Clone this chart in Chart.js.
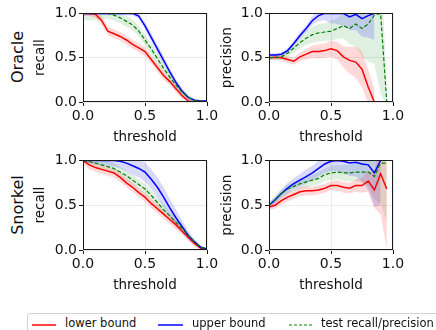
<!DOCTYPE html>
<html>
<head>
<meta charset="utf-8">
<script src="https://cdn.jsdelivr.net/npm/chart.js@4.4.0/dist/chart.umd.min.js"></script>
<style>
  body { margin: 0; background: #fff; width: 436px; height: 330px; overflow: hidden; position: relative; font-family: "DejaVu Sans", sans-serif; color: #111; }
  canvas { position: absolute; }
  .row { position: absolute; font-size: 16px; white-space: nowrap; transform: translate(-50%, -50%) rotate(-90deg); }
  #legend { position: absolute; left: 27px; top: 313px; width: 430px; height: 22px; border: 1px solid #d3d3d3; border-radius: 3px; font-size: 11.5px; }
  #legend span { position: absolute; top: 2px; white-space: nowrap; }
  #legend svg { position: absolute; top: 9px; }
</style>
</head>
<body>
<canvas id="c0"></canvas>
<canvas id="c1"></canvas>
<canvas id="c2"></canvas>
<canvas id="c3"></canvas>
<div class="row" style="left:17px; top:57px;">Oracle</div>
<div class="row" style="left:17px; top:205px;">Snorkel</div>
<div id="legend">
  <svg width="24" height="4" style="left:4px"><line x1="0" y1="2" x2="24" y2="2" stroke="#ff0000" stroke-width="1.5"/></svg>
  <span style="left:37px">lower bound</span>
  <svg width="25" height="4" style="left:130px"><line x1="0" y1="2" x2="25" y2="2" stroke="#0000ff" stroke-width="1.5"/></svg>
  <span style="left:164px">upper bound</span>
  <svg width="23" height="4" style="left:261px"><line x1="0" y1="2" x2="23" y2="2" stroke="#008000" stroke-width="1" stroke-dasharray="3,2"/></svg>
  <span style="left:293px">test recall/precision</span>
</div>
<script>
const thresholds = [0, 0.05, 0.1, 0.15, 0.2, 0.25, 0.3, 0.35, 0.4, 0.45, 0.5, 0.55, 0.6, 0.65, 0.7, 0.75, 0.8, 0.85, 0.9, 0.95, 1.0];
const tickValues = [0, 0.5, 1.0];

// Oracle - recall
const oracleRecallLower   = [1.0, 1.0, 0.99, 0.92, 0.80, 0.77, 0.74, 0.70, 0.65, 0.61, 0.57, 0.48, 0.39, 0.30, 0.23, 0.15, 0.07, 0.01, 0, 0, 0];
const oracleRecallLowerSd = [0.03, 0.03, 0.04, 0.05, 0.05, 0.05, 0.05, 0.05, 0.05, 0.05, 0.05, 0.05, 0.05, 0.05, 0.04, 0.04, 0.03, 0.02, 0.01, 0, 0];
const oracleRecallUpper   = [1, 1, 1, 1, 1, 1, 1, 1, 1, 0.97, 0.86, 0.73, 0.60, 0.47, 0.34, 0.22, 0.12, 0.05, 0.02, 0.01, 0.01];
const oracleRecallUpperSd = [0.02, 0.02, 0.02, 0.02, 0.02, 0.02, 0.02, 0.02, 0.02, 0.03, 0.04, 0.05, 0.05, 0.05, 0.04, 0.04, 0.03, 0.02, 0.01, 0.01, 0.01];
const oracleRecallTest    = [1, 1, 1, 1, 1, 0.98, 0.95, 0.91, 0.87, 0.80, 0.70, 0.60, 0.49, 0.38, 0.28, 0.19, 0.11, 0.05, 0.02, 0.01, 0];
const oracleRecallTestSd  = [0.08, 0.08, 0.08, 0.07, 0.06, 0.06, 0.06, 0.06, 0.06, 0.06, 0.06, 0.06, 0.06, 0.05, 0.05, 0.04, 0.04, 0.03, 0.02, 0.01, 0.01];

// Oracle - precision
const oraclePrecLower   = [0.50, 0.505, 0.50, 0.48, 0.46, 0.51, 0.54, 0.57, 0.57, 0.58, 0.60, 0.58, 0.51, 0.47, 0.45, 0.37, 0.17, 0.0, null, null, null];
const oraclePrecLowerSd = [0.03, 0.03, 0.03, 0.04, 0.04, 0.05, 0.06, 0.07, 0.08, 0.08, 0.09, 0.10, 0.12, 0.15, 0.18, 0.20, 0.20, 0.15, null, null, null];
const oraclePrecUpper   = [0.53, 0.53, 0.54, 0.58, 0.66, 0.75, 0.83, 0.92, 0.975, 1.0, 1.0, 1.0, 1.0, 0.96, 0.99, 0.94, 0.975, 1.0, null, null, null];
const oraclePrecUpperSd = [0.02, 0.02, 0.02, 0.03, 0.03, 0.04, 0.04, 0.05, 0.06, 0.08, 0.11, 0.12, 0.14, 0.15, 0.18, 0.20, 0.25, 0.30, null, null, null];
const oraclePrecTest    = [0.50, 0.50, 0.51, 0.55, 0.61, 0.67, 0.72, 0.76, 0.78, 0.79, 0.80, 0.83, 0.86, 0.83, 0.88, 0.83, 0.88, 0.98, 1.0, 0.0, null];
const oraclePrecTestSd  = [0.03, 0.03, 0.03, 0.04, 0.06, 0.07, 0.08, 0.09, 0.10, 0.10, 0.11, 0.12, 0.14, 0.18, 0.25, 0.32, 0.42, 0.55, 0.90, 0.05, null];

// Snorkel - recall
const snorkelRecallLower   = [1.0, 0.95, 0.92, 0.90, 0.88, 0.86, 0.81, 0.75, 0.70, 0.64, 0.59, 0.52, 0.46, 0.40, 0.34, 0.28, 0.21, 0.14, 0.07, 0.02, 0.0];
const snorkelRecallLowerSd = [0.04, 0.05, 0.05, 0.05, 0.05, 0.05, 0.05, 0.05, 0.05, 0.05, 0.05, 0.05, 0.05, 0.05, 0.05, 0.05, 0.04, 0.04, 0.03, 0.02, 0.01];
const snorkelRecallUpper   = [1, 1, 1, 1, 1, 1, 0.99, 0.97, 0.94, 0.91, 0.87, 0.79, 0.70, 0.59, 0.47, 0.36, 0.26, 0.16, 0.09, 0.03, 0.01];
const snorkelRecallUpperSd = [0.02, 0.03, 0.04, 0.05, 0.06, 0.07, 0.08, 0.09, 0.10, 0.10, 0.11, 0.11, 0.11, 0.11, 0.10, 0.09, 0.07, 0.05, 0.03, 0.02, 0.01];
const snorkelRecallTest    = [1.0, 0.985, 0.97, 0.95, 0.93, 0.91, 0.87, 0.83, 0.78, 0.73, 0.68, 0.61, 0.53, 0.45, 0.38, 0.31, 0.24, 0.16, 0.09, 0.03, 0.01];
const snorkelRecallTestSd  = [0.03, 0.04, 0.05, 0.06, 0.06, 0.06, 0.06, 0.06, 0.06, 0.06, 0.06, 0.06, 0.06, 0.06, 0.05, 0.05, 0.04, 0.03, 0.02, 0.01, 0.01];

// Snorkel - precision
const snorkelPrecLower   = [0.48, 0.50, 0.55, 0.59, 0.62, 0.65, 0.66, 0.66, 0.67, 0.69, 0.72, 0.72, 0.70, 0.69, 0.72, 0.72, 0.77, 0.67, 0.85, 0.68, null];
const snorkelPrecLowerSd = [0.03, 0.04, 0.04, 0.05, 0.05, 0.05, 0.05, 0.05, 0.05, 0.05, 0.05, 0.06, 0.06, 0.06, 0.07, 0.08, 0.12, 0.20, 0.45, 0.68, null];
const snorkelPrecUpper   = [0.50, 0.56, 0.63, 0.69, 0.74, 0.78, 0.82, 0.86, 0.91, 0.96, 0.99, 1.0, 0.99, 0.97, 0.98, 0.96, 0.95, 0.86, 1.0, null, null];
const snorkelPrecUpperSd = [0.03, 0.04, 0.05, 0.06, 0.06, 0.07, 0.08, 0.08, 0.09, 0.10, 0.11, 0.12, 0.13, 0.14, 0.16, 0.20, 0.28, 0.38, 0.50, null, null];
const snorkelPrecTest    = [0.50, 0.56, 0.63, 0.68, 0.71, 0.74, 0.76, 0.78, 0.80, 0.84, 0.86, 0.87, 0.86, 0.86, 0.87, 0.87, 0.87, 0.82, 0.97, 0.97, null];
const snorkelPrecTestSd  = [0.03, 0.04, 0.04, 0.05, 0.05, 0.06, 0.06, 0.06, 0.07, 0.07, 0.08, 0.08, 0.09, 0.09, 0.10, 0.12, 0.16, 0.25, 0.45, 0.65, null];

const RED = '#ff0000', BLUE = '#0000ff', GREEN = '#008000';
const TEXT = '#111';

// draws the four spines on top of the data, like matplotlib does
const framePlugin = {
    id: 'frame',
    afterDatasetsDraw(chart) {
        const a = chart.chartArea;
        const ctx = chart.ctx;
        ctx.save();
        ctx.strokeStyle = '#1a1a1a';
        ctx.lineWidth = 1;
        ctx.strokeRect(Math.round(a.left) + 0.5, Math.round(a.top) + 0.5,
            Math.round(a.right - a.left) - 1, Math.round(a.bottom - a.top) - 1);
        ctx.restore();
    }
};

function toPoints(values) {
    return thresholds.map((t, i) => ({ x: t, y: values[i] }));
}

function makePanel(id, left, top, width, height, yAxisWidth, yTitle, series) {
    const canvas = document.getElementById(id);
    canvas.width = width;
    canvas.height = height;
    canvas.style.left = left + 'px';
    canvas.style.top = top + 'px';
    canvas.style.width = width + 'px';
    canvas.style.height = height + 'px';

    const datasets = [];
    // lines first so they sit on top (lower order = drawn last)
    series.forEach((s, k) => {
        datasets.push({
            data: toPoints(s.mean),
            borderColor: s.color,
            borderWidth: s.dash ? 1.2 : 1.5,
            borderDash: s.dash ? [4, 2] : [],
            pointRadius: 0,
            fill: false,
            tension: 0,
            order: 5 - k
        });
    });
    series.forEach((s) => {
        const hi = s.mean.map((m, i) => m === null ? null : m + s.sd[i]);
        const lo = s.mean.map((m, i) => m === null ? null : m - s.sd[i]);
        const hiIndex = datasets.length;
        datasets.push({ data: toPoints(hi), borderWidth: 0, pointRadius: 0, fill: false, order: 10 });
        datasets.push({ data: toPoints(lo), borderWidth: 0, pointRadius: 0, fill: hiIndex, backgroundColor: s.band, order: 10 });
    });

    const tickFont = { family: 'DejaVu Sans', size: 14 };
    const titleFont = { family: 'DejaVu Sans', size: 13.5 };

    return new Chart(canvas, {
        type: 'line',
        data: { datasets: datasets },
        options: {
            responsive: false,
            animation: false,
            devicePixelRatio: 1,
            layout: { autoPadding: false, padding: { top: 8, right: 14, left: 0, bottom: 0 } },
            plugins: { legend: { display: false }, tooltip: { enabled: false } },
            scales: {
                x: {
                    type: 'linear', min: 0, max: 1,
                    afterBuildTicks: (scale) => { scale.ticks = tickValues.map(v => ({ value: v })); },
                    afterFit: (scale) => { scale.height = 45; },
                    ticks: { autoSkip: false, maxRotation: 0, font: tickFont, color: TEXT, padding: 2, callback: v => v.toFixed(1) },
                    grid: { color: '#ebebeb', tickColor: '#1a1a1a', tickLength: 4 },
                    border: { display: false },
                    title: { display: true, text: 'threshold', font: titleFont, color: TEXT, padding: { top: 0, bottom: 1 } }
                },
                y: {
                    type: 'linear', min: 0, max: 1,
                    afterBuildTicks: (scale) => { scale.ticks = tickValues.map(v => ({ value: v })); },
                    afterFit: (scale) => { scale.width = yAxisWidth; },
                    ticks: { autoSkip: false, font: tickFont, color: TEXT, padding: 2, callback: v => v.toFixed(1) },
                    grid: { color: '#ebebeb', tickColor: '#1a1a1a', tickLength: 4 },
                    border: { display: false },
                    title: { display: true, text: yTitle, font: titleFont, color: TEXT, padding: { top: 4, bottom: 0 } }
                }
            }
        },
        plugins: [framePlugin]
    });
}

const redBand = 'rgba(255, 0, 0, 0.15)';
const blueBand = 'rgba(0, 0, 255, 0.15)';
const greenBand = 'rgba(0, 128, 0, 0.12)';

makePanel('c0', 28, 3, 193, 144, 55, 'recall', [
    { mean: oracleRecallLower, sd: oracleRecallLowerSd, color: RED, band: redBand },
    { mean: oracleRecallUpper, sd: oracleRecallUpperSd, color: BLUE, band: blueBand },
    { mean: oracleRecallTest, sd: oracleRecallTestSd, color: GREEN, band: greenBand, dash: true }
]);
makePanel('c1', 215, 3, 192, 144, 54, 'precision', [
    { mean: oraclePrecLower, sd: oraclePrecLowerSd, color: RED, band: redBand },
    { mean: oraclePrecUpper, sd: oraclePrecUpperSd, color: BLUE, band: blueBand },
    { mean: oraclePrecTest, sd: oraclePrecTestSd, color: GREEN, band: greenBand, dash: true }
]);
makePanel('c2', 28, 150, 193, 145, 55, 'recall', [
    { mean: snorkelRecallLower, sd: snorkelRecallLowerSd, color: RED, band: redBand },
    { mean: snorkelRecallUpper, sd: snorkelRecallUpperSd, color: BLUE, band: blueBand },
    { mean: snorkelRecallTest, sd: snorkelRecallTestSd, color: GREEN, band: greenBand, dash: true }
]);
makePanel('c3', 215, 150, 192, 145, 54, 'precision', [
    { mean: snorkelPrecLower, sd: snorkelPrecLowerSd, color: RED, band: redBand },
    { mean: snorkelPrecUpper, sd: snorkelPrecUpperSd, color: BLUE, band: blueBand },
    { mean: snorkelPrecTest, sd: snorkelPrecTestSd, color: GREEN, band: greenBand, dash: true }
]);
</script>
</body>
</html>
